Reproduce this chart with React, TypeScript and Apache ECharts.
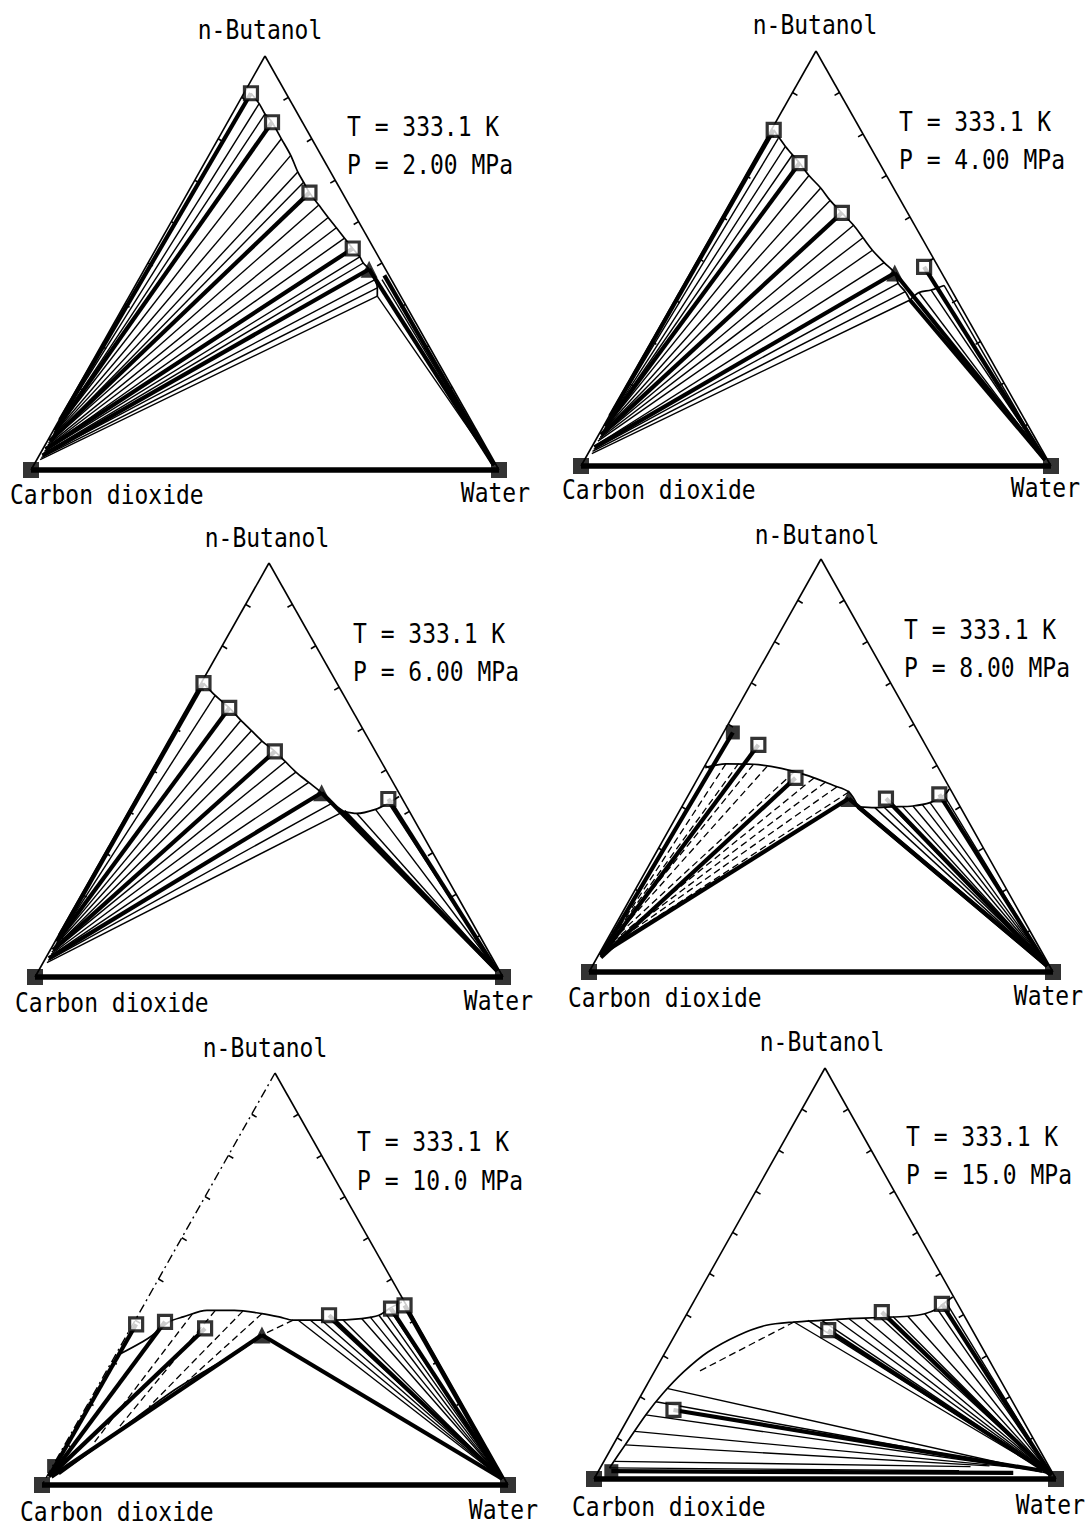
import React, { useEffect, useRef } from "react";
import * as echarts from "echarts";

// Compositions are [n-butanol mol %, water mol %]; carbon dioxide is the rest.
type BW = number[];

const vertexCO2: BW = [0, 0];
const vertexWater: BW = [0, 100];
const vertexButanol: BW = [100, 0];
const tickPercents = [10, 20, 30, 40, 50, 60, 70, 80, 90];

const topLabel = "n-Butanol";
const leftLabel = "Carbon dioxide";
const rightLabel = "Water";
const tempLabel = "T = 333.1 K";
const pressureLabels = ["P = 2.00 MPa", "P = 4.00 MPa", "P = 6.00 MPa", "P = 8.00 MPa", "P = 10.0 MPa", "P = 15.0 MPa"];

// ---------- Panel 1 : 2.00 MPa ----------
const p1Curve: BW[] = [[91, 1.5], [88.5, 4.5], [86, 7], [84, 9.5], [80, 13.5], [76, 17.5], [72, 21], [69.5, 23.5], [67, 26], [64, 29.5], [61, 33], [58.5, 36], [56, 39], [53.5, 42], [51.5, 44.5], [50, 46], [48.5, 48], [46, 50.5], [44, 52], [42, 53]];
const p1TieL: BW[] = [[88.5, 4.5], [86, 7], [80, 13.5], [76, 17.5], [72, 21], [69.5, 23.5], [64, 29.5], [61, 33], [58.5, 36], [56, 39], [51.5, 44.5], [50, 46], [46, 50.5], [44, 52], [42, 53]];
const p1TieV: BW[] = [[11, 0.3], [10, 0.4], [9, 0.4], [8.5, 0.5], [8, 0.5], [7, 0.5], [6.5, 0.5], [6, 0.6], [5.5, 0.6], [5, 0.6], [4.5, 0.6], [4, 0.7], [3.5, 0.7], [3, 0.7], [2.5, 0.7]];
const p1ExpL: BW[] = [[91, 1.5], [84, 9.5], [67, 26], [53.5, 42], [48.5, 48]];
const p1ExpV: BW[] = [[12, 0.2], [9.5, 0.4], [7, 0.5], [5, 0.6], [3.5, 0.7]];
const p1AqThin: BW[] = [[46, 52], [44.5, 54.5], [42, 53]];
const p1AqThick: BW[] = [[48.5, 48], [47, 52]];
const p1AqEnd: BW = [1.2, 98.3];
const p1Open: BW[] = [[91, 1.5], [84, 9.5], [67, 26], [53.5, 42]];
const p1Tri: BW[] = [[48.5, 48]];

// ---------- Panel 2 : 4.00 MPa ----------
const p2Curve: BW[] = [[81, 0.5], [77, 5], [73, 10], [70, 13.5], [67, 17.5], [64, 21], [61, 25], [58, 29], [55, 32.5], [52, 36], [49, 40], [46.5, 43.5], [44, 45.5], [42, 48], [40, 50]];
const p2Arc: BW[] = [[40, 50], [41.8, 51], [42.4, 53.3], [43.5, 55.5]];
const p2TieL: BW[] = [[79, 2.5], [77, 5], [75, 7.5], [70, 13.5], [67, 17.5], [64, 21], [58, 29], [55, 32.5], [52, 36], [49, 40], [44, 45.5], [42, 48], [40, 50]];
const p2TieV: BW[] = [[11, 0.3], [10.5, 0.4], [10, 0.4], [9, 0.5], [8.5, 0.5], [8, 0.5], [7, 0.6], [6.5, 0.6], [6, 0.6], [5, 0.7], [4, 0.7], [3.5, 0.7], [3, 0.8]];
const p2ExpL: BW[] = [[81, 0.5], [73, 10], [61, 25], [46.5, 43.5]];
const p2ExpV: BW[] = [[12, 0.2], [9.5, 0.4], [7.5, 0.5], [4.5, 0.6]];
const p2AqThin: BW[] = [[41.8, 51], [42.4, 53.3], [43.5, 55.5]];
const p2AqThick: BW[] = [[46.5, 43.5], [40, 50], [48, 49]];
const p2AqEnd: BW = [1.5, 98];
const p2Open: BW[] = [[81, 0.5], [73, 10], [61, 25], [48, 49]];
const p2Tri: BW[] = [[46.5, 43.5]];

// ---------- Panel 3 : 6.00 MPa ----------
const p3Curve: BW[] = [[71, 0.5], [68, 4.5], [65, 9], [62, 13], [59.5, 16.5], [57, 20], [54.5, 24], [52, 27.5], [49.5, 31], [47, 35], [44.5, 39], [42, 42.5], [40, 46]];
const p3Arc: BW[] = [[40, 46], [39.5, 49], [40.5, 52.5], [42, 54.5], [43.6, 56]];
const p3TieL: BW[] = [[68, 4.5], [62, 13], [59.5, 16.5], [57, 20], [52, 27.5], [49.5, 31], [47, 35], [42, 42.5], [40, 46]];
const p3TieV: BW[] = [[9, 0.4], [8, 0.5], [7.5, 0.5], [7, 0.6], [6, 0.6], [5.5, 0.7], [5, 0.7], [4, 0.8], [3.5, 0.8]];
const p3ExpL: BW[] = [[71, 0.5], [65, 9], [54.5, 24], [44.5, 39]];
const p3ExpV: BW[] = [[10, 0.3], [8.5, 0.4], [6.5, 0.6], [4.5, 0.7]];
const p3AqThin: BW[] = [[39.5, 49], [40.5, 52.5], [42, 54.5]];
const p3AqThick: BW[] = [[44.5, 39], [40, 46], [43, 54]];
const p3AqEnd: BW = [1.5, 98];
const p3Open: BW[] = [[71, 0.5], [65, 9], [54.5, 24], [43, 54]];
const p3Tri: BW[] = [[44.5, 39]];

// ---------- Panel 4 : 8.00 MPa ----------
const p4Curve: BW[] = [[49.5, 0.3], [50.4, 4.3], [50.3, 10.3], [49.3, 16.8], [47.5, 23.6], [45.2, 30], [43.6, 34.2], [40, 38]];
const p4Arc: BW[] = [[40, 38], [39.8, 41.7], [40, 45.3], [40.2, 49.7], [41, 53], [42.8, 55.1], [44.3, 55.5]];
const p4DashL: BW[] = [[50.4, 4.3], [50.5, 7], [50.3, 10.3], [49.8, 13.5], [48.5, 20], [47, 25], [46, 28], [44.8, 31], [43.6, 34.2]];
const p4DashV: BW[] = [[10, 1], [9.5, 1], [9, 1.2], [8.5, 1.2], [8, 1.3], [7.5, 1.5], [7, 1.5], [6.5, 1.6], [6, 1.7]];
const p4ExpL: BW[] = [[58, 2], [55, 9], [47, 21], [42, 35]];
const p4ExpV: BW[] = [[4, 0.5], [4.5, 0.8], [3.5, 0.8], [5, 1]];
const p4AqThin: BW[] = [[39.8, 41.7], [40, 43.5], [40, 45.3], [40.1, 47.5], [40.2, 49.7], [40.6, 51.5], [41, 53], [42.8, 55.1]];
const p4AqThick: BW[] = [[42, 35], [40, 38], [42, 43], [43, 54]];
const p4AqEnd: BW = [1.5, 98];
const p4Open: BW[] = [[55, 9], [47, 21], [42, 43], [43, 54]];
const p4Filled: BW[] = [[58, 2]];
const p4Tri: BW[] = [[42, 35]];

// ---------- Panel 5 : 10.0 MPa ----------
const p5Curve: BW[] = [[31.5, 0.5], [35.6, 5], [39.6, 7.5], [40.8, 9.9], [42.4, 14.2], [42.4, 20.1], [41.6, 26.4], [40.8, 30.5], [40, 33.9], [40, 37.6], [40, 42], [40.4, 48.4], [41.2, 51.7], [42.8, 53.1], [44.4, 55]];
const p5Vapour: BW[] = [[36.4, 29], [32.4, 26], [27.5, 21], [22.7, 16.6], [16.3, 12], [9.8, 7.5], [2.6, 2.4]];
const p5DashL: BW[] = [[41.5, 11.5], [42.4, 16], [42.2, 22], [41.6, 26.4], [40, 33.9]];
const p5DashV: BW[] = [[10, 6], [14, 9.5], [19, 13.5], [25, 18.5], [36.4, 29]];
const p5ExpL: BW[] = [[39, 0.7], [39.6, 6.6], [38, 16], [36.4, 29]];
const p5ExpV: BW[] = [[2, 0.5], [2.5, 0.8], [3, 1], [2, 1]];
const p5AqThin: BW[] = [[40, 35], [40, 37.6], [40, 40], [40, 42], [40.1, 44.5], [40.4, 48.4], [40.8, 50], [41.2, 51.7], [42, 52.5], [42.8, 53.1]];
const p5AqThick: BW[] = [[36.4, 29], [41.2, 41], [42.8, 53.5], [43.6, 56]];
const p5AqEnd: BW = [1.5, 98];
const p5Open: BW[] = [[39, 0.7], [39.6, 6.6], [38, 16], [41.2, 41], [42.8, 53.5], [43.6, 56]];
const p5Filled: BW[] = [[4.6, 0.3]];
const p5Tri: BW[] = [[36.4, 29]];

// ---------- Panel 6 : 15.0 MPa ----------
const p6Curve: BW[] = [[2.7, 2], [8.3, 2.6], [15.6, 3.4], [20.8, 4.5], [26.1, 6.4], [30.9, 9.2], [35, 13.8], [37.4, 18.6], [38.2, 24.2], [38.6, 30], [39, 35.7], [39.3, 42.3], [39.6, 48.1], [40.2, 51.5], [41.4, 53.6], [43.1, 54.6], [44.3, 55.5]];
const p6LowL: BW[] = [[22, 5], [18.8, 4], [15.6, 3.4], [11.6, 3], [8.3, 2.6], [4.3, 2.3], [2.7, 2]];
const p6LowV: BW[] = [[1.5, 97], [2, 95], [2.5, 92], [3, 88], [3.2, 84], [3, 80], [2, 78]];
const p6ExpLowL: BW[] = [[16.8, 8.8], [1.9, 2.8]];
const p6ExpLowV: BW[] = [[2, 96], [1.5, 90]];
const p6DashL: BW[] = [[38.2, 24.2]];
const p6DashV: BW[] = [[26, 9.4]];
const p6AqThin: BW[] = [[38.2, 24.2], [38.6, 27], [38.6, 30], [38.8, 33], [39, 35.7], [39.1, 39], [39.3, 42.3], [39.5, 45], [39.6, 48.1], [40.2, 51.5], [41.4, 53.6], [43.1, 54.6]];
const p6AqThick: BW[] = [[36.2, 32.6], [40.6, 42], [42.6, 54]];
const p6AqEnd: BW = [1, 98.5];
const p6Open: BW[] = [[40.6, 42], [42.6, 54], [36.2, 32.6], [16.8, 8.8]];
const p6Filled: BW[] = [[1.9, 2.8]];

// ---------- layout (pixels) ----------
const panelBoxes = [
  { left: 31, top: 56, width: 468, height: 414 },
  { left: 581, top: 51, width: 470, height: 415 },
  { left: 35, top: 563, width: 468, height: 414 },
  { left: 589, top: 559, width: 464, height: 413 },
  { left: 42, top: 1073, width: 466, height: 412 },
  { left: 594, top: 1068, width: 462, height: 411 },
];
const textSpots = [
  { top: [260, 30], left: [10, 495], right: [530, 493], temp: [347, 127], pres: [347, 165] },
  { top: [815, 25], left: [562, 490], right: [1080, 488], temp: [899, 122], pres: [899, 160] },
  { top: [267, 538], left: [15, 1003], right: [533, 1001], temp: [353, 634], pres: [353, 672] },
  { top: [817, 535], left: [568, 998], right: [1083, 996], temp: [904, 630], pres: [904, 668] },
  { top: [265, 1048], left: [20, 1512], right: [538, 1510], temp: [357, 1142], pres: [357, 1181] },
  { top: [822, 1042], left: [572, 1507], right: [1085, 1505], temp: [906, 1137], pres: [906, 1175] },
];
// the left side of the 10.0 MPa diagram is drawn dash-dotted
const dashedLeftSide = [false, false, false, false, true, false];

const zip = (a: BW[], b: BW[]) => a.map((p, i) => [p, b[i]]);
const fan = (a: BW[], end: BW) => a.map((p) => [p, end]);

const panels = [
  {
    curves: [p1Curve], thin: [...zip(p1TieL, p1TieV), ...fan(p1AqThin, p1AqEnd)],
    thick: [...zip(p1ExpL, p1ExpV), ...fan(p1AqThick, p1AqEnd)], dashed: [],
    open: p1Open, filled: [], tri: p1Tri,
  },
  {
    curves: [p2Curve, p2Arc], thin: [...zip(p2TieL, p2TieV), ...fan(p2AqThin, p2AqEnd)],
    thick: [...zip(p2ExpL, p2ExpV), ...fan(p2AqThick, p2AqEnd)], dashed: [],
    open: p2Open, filled: [], tri: p2Tri,
  },
  {
    curves: [p3Curve, p3Arc], thin: [...zip(p3TieL, p3TieV), ...fan(p3AqThin, p3AqEnd)],
    thick: [...zip(p3ExpL, p3ExpV), ...fan(p3AqThick, p3AqEnd)], dashed: [],
    open: p3Open, filled: [], tri: p3Tri,
  },
  {
    curves: [p4Curve, p4Arc], thin: fan(p4AqThin, p4AqEnd),
    thick: [...zip(p4ExpL, p4ExpV), ...fan(p4AqThick, p4AqEnd)], dashed: zip(p4DashL, p4DashV),
    open: p4Open, filled: p4Filled, tri: p4Tri,
  },
  {
    curves: [p5Curve, p5Vapour], thin: fan(p5AqThin, p5AqEnd),
    thick: [...zip(p5ExpL, p5ExpV), ...fan(p5AqThick, p5AqEnd)], dashed: zip(p5DashL, p5DashV),
    open: p5Open, filled: p5Filled, tri: p5Tri,
  },
  {
    curves: [p6Curve], thin: [...zip(p6LowL, p6LowV), ...fan(p6AqThin, p6AqEnd)],
    thick: [...zip(p6ExpLowL, p6ExpLowV), ...fan(p6AqThick, p6AqEnd)], dashed: zip(p6DashL, p6DashV),
    open: p6Open, filled: p6Filled, tri: [],
  },
];

const xy = (p: BW) => [(p[1] + p[0] / 2) / 100, p[0] / 100];
const seg = (pair: BW[]) => ({ coords: [xy(pair[0]), xy(pair[1])] });

const FONT = '23px "DejaVu Sans Mono", "Liberation Mono", monospace';

function buildOption() {
  const grid: any[] = [];
  const xAxis: any[] = [];
  const yAxis: any[] = [];
  const series: any[] = [];
  const graphic: any[] = [];

  panels.forEach((pn, i) => {
    grid.push({ ...panelBoxes[i], containLabel: false });
    xAxis.push({ type: "value", gridIndex: i, min: 0, max: 1, show: false });
    yAxis.push({ type: "value", gridIndex: i, min: 0, max: 1, show: false });
    const ax = { xAxisIndex: i, yAxisIndex: i };
    const linesBase = { type: "lines", coordinateSystem: "cartesian2d", ...ax, silent: true, clip: false, polyline: false };

    const frame: BW[][] = [[vertexWater, vertexButanol]];
    if (!dashedLeftSide[i]) frame.push([vertexButanol, vertexCO2]);
    tickPercents.forEach((k) => {
      frame.push([[k, 0], [k - 0.7, 1.4]]);
      frame.push([[k, 100 - k], [k - 0.7, 100 - k - 0.7]]);
    });
    series.push({ ...linesBase, data: frame.map(seg), lineStyle: { color: "#000", width: 1.6, opacity: 1, curveness: 0 }, z: 2 });
    if (dashedLeftSide[i])
      series.push({
        ...linesBase, data: [seg([vertexButanol, vertexCO2])],
        lineStyle: { color: "#000", width: 1.4, opacity: 1, curveness: 0, type: [9, 4, 2, 4] }, z: 2,
      });
    series.push({ ...linesBase, data: [seg([vertexCO2, vertexWater])], lineStyle: { color: "#000", width: 5.5, opacity: 1, curveness: 0 }, z: 2 });
    series.push({ ...linesBase, data: pn.thin.map(seg), lineStyle: { color: "#000", width: 1.4, opacity: 1, curveness: 0 }, z: 3 });
    if (pn.dashed.length)
      series.push({ ...linesBase, data: pn.dashed.map(seg), lineStyle: { color: "#000", width: 1.3, opacity: 1, type: [7, 4], curveness: 0 }, z: 3 });
    series.push({ ...linesBase, data: pn.thick.map(seg), lineStyle: { color: "#000", width: 4.2, opacity: 1, curveness: 0 }, z: 4 });

    pn.curves.forEach((c) => {
      series.push({
        type: "line", ...ax, data: c.map(xy), smooth: 0.3, symbol: "none", clip: false, silent: true,
        lineStyle: { color: "#000", width: 1.7 }, z: 4,
      });
    });

    series.push({
      type: "scatter", ...ax, data: [vertexCO2, vertexWater].map(xy), symbol: "rect", symbolSize: 16,
      itemStyle: { color: "#000" }, clip: false, silent: true, z: 6,
    });
    if (pn.open.length)
      series.push({
        type: "scatter", ...ax, data: pn.open.map(xy), symbol: "rect", symbolSize: 13,
        itemStyle: { color: "#fff", borderColor: "#000", borderWidth: 3.2 }, clip: false, silent: true, z: 7,
      });
    if (pn.filled.length)
      series.push({
        type: "scatter", ...ax, data: pn.filled.map(xy), symbol: "rect", symbolSize: 14,
        itemStyle: { color: "#000" }, clip: false, silent: true, z: 7,
      });
    if (pn.tri.length)
      series.push({
        type: "scatter", ...ax, data: pn.tri.map(xy), symbol: "triangle", symbolSize: 17,
        itemStyle: { color: "#000" }, clip: false, silent: true, z: 7,
      });

    const t = textSpots[i];
    const txt = (s: string, p: number[], align: string) => ({
      type: "text", x: p[0], y: p[1], scaleY: 1.15, silent: true,
      style: { text: s, font: FONT, fill: "#000", textAlign: align, textVerticalAlign: "middle" },
    });
    graphic.push(txt(topLabel, t.top, "center"));
    graphic.push(txt(leftLabel, t.left, "left"));
    graphic.push(txt(rightLabel, t.right, "right"));
    graphic.push(txt(tempLabel, t.temp, "left"));
    graphic.push(txt(pressureLabels[i], t.pres, "left"));
  });

  return { animation: false, backgroundColor: "#fff", grid, xAxis, yAxis, series, graphic };
}

export default function App() {
  const ref = useRef<HTMLDivElement>(null);
  useEffect(() => {
    if (!ref.current) return;
    const chart = echarts.init(ref.current, undefined, { renderer: "svg" });
    chart.setOption(buildOption() as any);
    return () => chart.dispose();
  }, []);
  return (
    <div
      ref={ref}
      style={{ position: "absolute", left: 0, top: 0, width: 1090, height: 1526, background: "#fff" }}
    />
  );
}
